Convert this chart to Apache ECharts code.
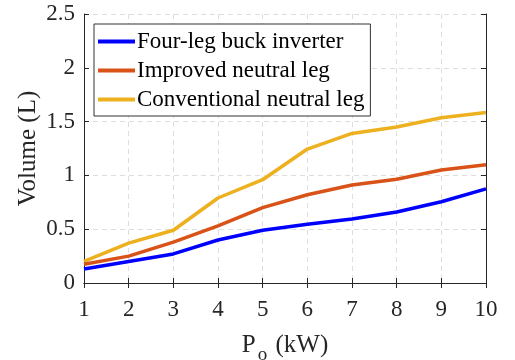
<!DOCTYPE html>
<html>
<head>
<meta charset="utf-8">
<script src="https://cdn.jsdelivr.net/npm/echarts@6/dist/echarts.min.js"></script>
<style>
  html, body { margin: 0; padding: 0; background: #fff; }
  #chart { width: 515px; height: 360px; }
</style>
</head>
<body>
<div id="chart"></div>
<script>
// power levels (kW)
const powers = [1, 2, 3, 4, 5, 6, 7, 8, 9, 10];
// volume (L) per topology
const fourLeg = [0.13, 0.20, 0.27, 0.40, 0.49, 0.545, 0.595, 0.66, 0.755, 0.875];
const improved = [0.175, 0.25, 0.38, 0.53, 0.70, 0.82, 0.91, 0.965, 1.05, 1.10];
const conventional = [0.20, 0.37, 0.49, 0.79, 0.96, 1.245, 1.39, 1.45, 1.535, 1.585];
const names = ['Four-leg buck inverter', 'Improved neutral leg', 'Conventional neutral leg'];
const colors = ['#0000ff', '#d95319', '#edb120'];

const font = '"Liberation Serif", "Times New Roman", serif';
const pair = arr => arr.map((v, i) => [powers[i], v]);

const gridLine = { show: true, lineStyle: { color: '#dedede', type: [5, 4], width: 1 } };
const tick = { show: true, inside: true, length: 5, lineStyle: { color: '#262626' } };
const line = { show: true, lineStyle: { color: '#262626', width: 1 } };

let myChart = echarts.init(document.getElementById('chart'));

let option = {
    animation: false,
    grid: { left: 84, right: 29, top: 14, bottom: 77, containLabel: false, outerBoundsMode: 'none' },
    legend: {
        orient: 'vertical',
        left: 94,
        top: 24,
        data: names,
        icon: 'rect',
        itemWidth: 37,
        itemHeight: 4,
        itemGap: 6,
        padding: [6, 6, 5, 4],
        borderColor: '#333',
        borderWidth: 1,
        backgroundColor: '#fff',
        textStyle: { fontFamily: font, fontSize: 23, color: '#000', padding: [0, 0, 0, -3] }
    },
    xAxis: [{
        type: 'value',
        min: 1,
        max: 10,
        interval: 1,
        axisLine: line,
        axisTick: tick,
        splitLine: gridLine,
        axisLabel: { fontFamily: font, fontSize: 23, color: '#262626', margin: 15 },
        name: '{p|P}{s|o} (kW)',
        nameLocation: 'middle',
        nameGap: 43,
        nameTextStyle: {
            fontFamily: font, fontSize: 25, color: '#262626',
            rich: {
                p: { fontFamily: font, fontSize: 25, color: '#262626' },
                s: { fontFamily: font, fontSize: 19, color: '#262626', padding: [20, 2, 0, 2] }
            }
        }
    }, {
        type: 'value',
        position: 'top',
        min: 1,
        max: 10,
        interval: 1,
        axisLine: line,
        axisTick: tick,
        axisLabel: { show: false },
        splitLine: { show: false }
    }],
    yAxis: [{
        type: 'value',
        min: 0,
        max: 2.5,
        interval: 0.5,
        axisLine: line,
        axisTick: tick,
        splitLine: gridLine,
        axisLabel: { fontFamily: font, fontSize: 23, color: '#262626', margin: 9 },
        name: 'Volume (L)',
        nameLocation: 'middle',
        nameGap: 43,
        nameMoveOverlap: false,
        nameTextStyle: { fontFamily: font, fontSize: 25, color: '#262626' }
    }, {
        type: 'value',
        position: 'right',
        min: 0,
        max: 2.5,
        interval: 0.5,
        axisLine: line,
        axisTick: tick,
        axisLabel: { show: false },
        splitLine: { show: false }
    }],
    series: [fourLeg, improved, conventional].map((d, i) => ({
        name: names[i],
        type: 'line',
        data: pair(d),
        showSymbol: false,
        symbol: 'none',
        color: colors[i],
        lineStyle: { width: 3.5, color: colors[i] },
        z: 3 - i
    }))
};

myChart.setOption(option);
</script>
</body>
</html>
